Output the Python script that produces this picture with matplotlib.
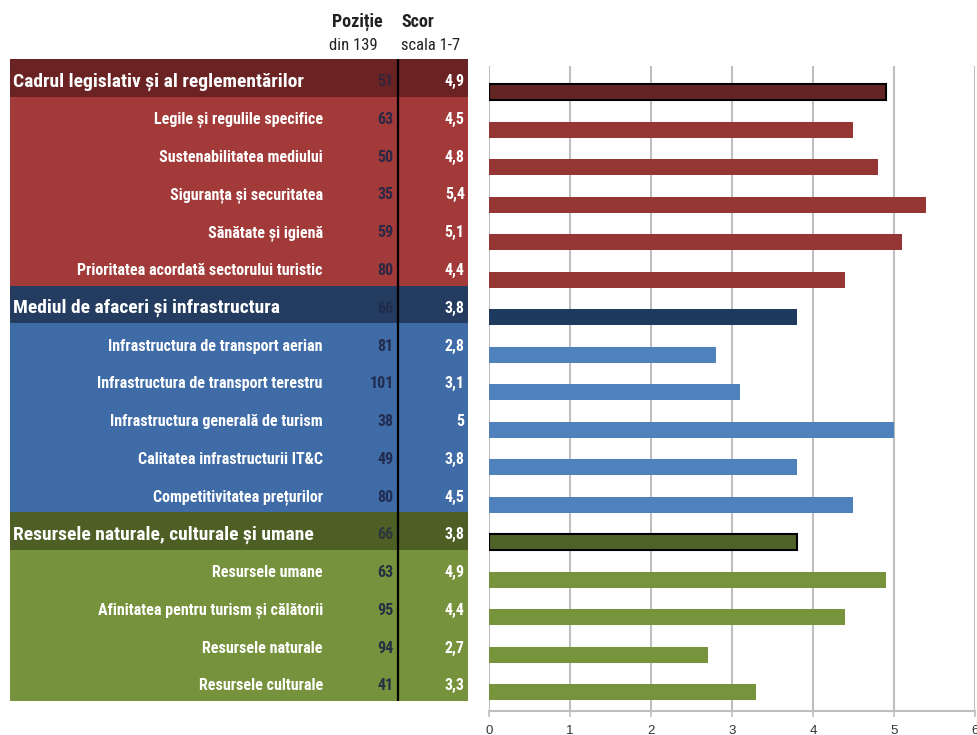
import matplotlib.pyplot as plt
from matplotlib import font_manager
from matplotlib.patches import Rectangle

# data
labels = [
    "Cadrul legislativ și al reglementărilor",
    "Legile și regulile specifice",
    "Sustenabilitatea mediului",
    "Siguranța și securitatea",
    "Sănătate și igienă",
    "Prioritatea acordată sectorului turistic",
    "Mediul de afaceri și infrastructura",
    "Infrastructura de transport aerian",
    "Infrastructura de transport terestru",
    "Infrastructura generală de turism",
    "Calitatea infrastructurii IT&C",
    "Competitivitatea prețurilor",
    "Resursele naturale, culturale și umane",
    "Resursele umane",
    "Afinitatea pentru turism și călătorii",
    "Resursele naturale",
    "Resursele culturale",
]
ranks = [51, 63, 50, 35, 59, 80, 66, 81, 101, 38, 49, 80, 66, 63, 95, 94, 41]
scores = [4.9, 4.5, 4.8, 5.4, 5.1, 4.4, 3.8, 2.8, 3.1, 5.0, 3.8, 4.5, 3.8, 4.9, 4.4, 2.7, 3.3]
group_start = [0, 6, 12]
xticks = [0, 1, 2, 3, 4, 5, 6]

# colours per group: (header row, sub rows, header bar, sub bars)
group_colors = [
    ("#6a2322", "#a13a38", "#632523", "#963634"),
    ("#233c5f", "#3f6ba7", "#1f3a5f", "#4f81bd"),
    ("#4e5f26", "#76923c", "#4f6228", "#77933c"),
]
header_edge = ["black", None, "black"]

# pick a narrow font that has a real bold face
bold_fams = set(f.name for f in font_manager.fontManager.ttflist
                if isinstance(f.weight, int) and f.weight >= 700 or f.weight == "bold")
narrow_font = "DejaVu Sans"
for cand in ["Liberation Sans Narrow", "Arial Narrow", "Roboto Condensed",
             "Archivo Narrow", "PT Sans Narrow", "Asap Condensed"]:
    if cand in bold_fams:
        narrow_font = cand
        break
narrow = [narrow_font, "DejaVu Sans"]
plt.rcParams["font.family"] = ["Liberation Sans", "DejaVu Sans"]

fig = plt.figure(figsize=(9.78, 7.35), dpi=100)
W, H = 978, 735

# ---- table on the left ----
tx0, tx1, ty0, ty1 = 10, 468, 59, 701
ax_t = fig.add_axes([tx0 / W, 1 - ty1 / H, (tx1 - tx0) / W, (ty1 - ty0) / H])
ax_t.set_xlim(0, 1)
ax_t.set_ylim(len(labels), 0)
ax_t.axis("off")

n = len(labels)
for i in range(n):
    g = sum(1 for s in group_start if i >= s) - 1
    is_head = i in group_start
    bg = group_colors[g][0] if is_head else group_colors[g][1]
    ax_t.add_patch(Rectangle((0, i), 1, 1, facecolor=bg, edgecolor="none"))
    yc = i + 0.6
    if is_head:
        ax_t.text(0.006, yc, labels[i], ha="left", va="center", color="white",
                  fontsize=14, fontweight="bold", family=narrow)
    else:
        ax_t.text(0.683, yc, labels[i], ha="right", va="center", color="white",
                  fontsize=11.5, fontweight="bold", family=narrow)
    ax_t.text(0.838, yc, str(ranks[i]), ha="right", va="center",
              color="#1e2546", alpha=0.7 if is_head else 0.9,
              fontsize=11.5, fontweight="bold", family=narrow)
    sc = f"{scores[i]:g}".replace(".", ",")
    ax_t.text(0.993, yc, sc, ha="right", va="center", color="white",
              fontsize=11.5, fontweight="bold", family=narrow)

ax_t.plot([0.847, 0.847], [0, n], color="black", lw=1.6)

# column headers
fig.text(357 / W, 1 - 22 / H, "Poziție", ha="center", va="center",
         fontsize=13, fontweight="bold", family=narrow, color="#222222")
fig.text(353 / W, 1 - 46 / H, "din 139", ha="center", va="center",
         fontsize=12, family=narrow, color="#222222")
fig.text(401 / W, 1 - 22 / H, "Scor", ha="left", va="center",
         fontsize=13, fontweight="bold", family=narrow, color="#222222")
fig.text(401 / W, 1 - 46 / H, "scala 1-7", ha="left", va="center",
         fontsize=12, family=narrow, color="#222222")

# ---- bar chart on the right ----
bx0, bx1, by0, by1 = 489, 975, 66, 711
ax = fig.add_axes([bx0 / W, 1 - by1 / H, (bx1 - bx0) / W, (by1 - by0) / H])
ypos = list(range(n))
bar_colors, edge_colors, lws = [], [], []
for i in range(n):
    g = sum(1 for s in group_start if i >= s) - 1
    if i in group_start:
        bar_colors.append(group_colors[g][2])
        edge_colors.append(header_edge[g] or group_colors[g][2])
        lws.append(1.5 if header_edge[g] else 0)
    else:
        bar_colors.append(group_colors[g][3])
        edge_colors.append(group_colors[g][3])
        lws.append(0)
ax.barh(ypos, scores, height=0.43, color=bar_colors, edgecolor=edge_colors,
        linewidth=lws, zorder=3)
ax.set_xlim(0, 6)
ax.set_ylim(16.5, -0.7)
ax.set_xticks(xticks)
ax.set_xticklabels([str(t) for t in xticks], fontsize=9.5, color="#333333")
ax.set_yticks([])
ax.grid(axis="x", color="#bfbfbf", lw=1.5, zorder=0)
for s in ["top", "right", "left"]:
    ax.spines[s].set_visible(False)
ax.spines["bottom"].set_color("#bfbfbf")
ax.spines["bottom"].set_linewidth(1.5)
ax.tick_params(axis="x", length=4, width=1.2, color="#bfbfbf", pad=6)

fig.savefig("out.png", dpi=100)
